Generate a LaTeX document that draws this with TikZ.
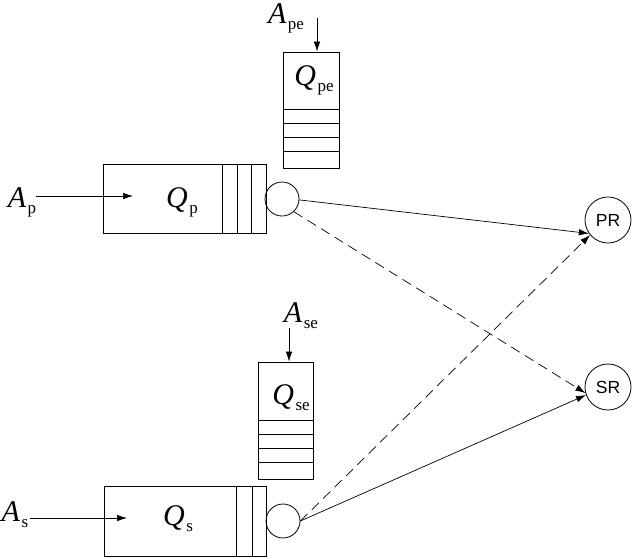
\documentclass[tikz,border=0pt]{standalone}
\usepackage{fontspec}
\setmainfont{Liberation Serif}
\setsansfont{Liberation Sans}
\usetikzlibrary{arrows.meta}
\newcommand\qlab[2]{\textit{#1}\hspace{1.5pt}\raisebox{-6pt}{\fontsize{17}{17}\selectfont #2}}
\begin{document}
\begin{tikzpicture}[x=1pt,y=-1pt,
  box/.style={draw, line width=0.8pt, inner sep=0pt},
  slot/.style={line width=0.8pt},
  srv/.style={draw, circle, line width=0.8pt, minimum size=34pt, inner sep=0pt},
  res/.style={draw, circle, line width=0.8pt, minimum size=46pt, inner sep=0pt, font=\sffamily\fontsize{17.5}{20}\selectfont},
  lbl/.style={inner sep=0pt, font=\fontsize{30}{34}\selectfont},
  arr/.style={-{Latex[length=10pt,width=6.5pt]}, line width=0.7pt},
  dsh/.style={arr, dash pattern=on 10pt off 6pt}]
\useasboundingbox (0,0) rectangle (638,558);

% primary queue
\node[box, minimum width=163pt, minimum height=69pt] (qp) at (184.5,198.5) {};
\draw[slot] (222,164) -- (222,233) (237,164) -- (237,233) (251,164) -- (251,233);
\node[lbl] (lqp) at (182,202) {\qlab{Q}{p}};
\node[lbl] (lap) at (22,202) {\qlab{A}{p}};
\coordinate (ap0) at (36,196);
\coordinate (ap1) at (133,196);
\draw[arr] (ap0) -- (ap1);
\node[srv] (cp) at (282,199) {};

% primary extra queue
\node[box, minimum width=56pt, minimum height=116pt] (qpe) at (311,110) {};
\draw[slot] (283,109) -- (339,109) (283,123) -- (339,123) (283,137) -- (339,137) (283,151) -- (339,151);
\node[lbl] (lqpe) at (314,80) {\qlab{Q}{pe}};
\node[lbl] (lape) at (286,18) {\qlab{A}{pe}};
\coordinate (ape0) at (317,18);
\draw[arr] (ape0) -- (ape0 |- qpe.north);

% secondary extra queue
\node[box, minimum width=55pt, minimum height=117pt] (qse) at (285.5,420.5) {};
\draw[slot] (258,420) -- (313,420) (258,434) -- (313,434) (258,448) -- (313,448) (258,462) -- (313,462);
\node[lbl] (lqse) at (291,398) {\qlab{Q}{se}};
\node[lbl] (lase) at (301,316) {\qlab{A}{se}};
\coordinate (ase0) at (289,328);
\draw[arr] (ase0) -- (ase0 |- qse.north);

% secondary queue
\node[box, minimum width=162pt, minimum height=70pt] (qs) at (185,521) {};
\draw[slot] (236,486) -- (236,556) (252,486) -- (252,556);
\node[lbl] (lqs) at (178,519) {\qlab{Q}{s}};
\node[lbl] (las) at (15,515) {\qlab{A}{s}};
\coordinate (as0) at (30,518);
\coordinate (as1) at (127,518);
\draw[arr] (as0) -- (as1);
\node[srv] (cs) at (283,521) {};

% resources
\node[res] (pr) at (608,220) {PR};
\node[res] (sr) at (608,387) {SR};

\draw[arr] (cp.-3) -- (pr.-145);
\draw[dsh] (cp.-47) -- (sr.-165);
\draw[dsh] (cs.east) -- (pr.-140);
\draw[arr] (cs.east) -- (sr.-160);
\end{tikzpicture}
\end{document}
